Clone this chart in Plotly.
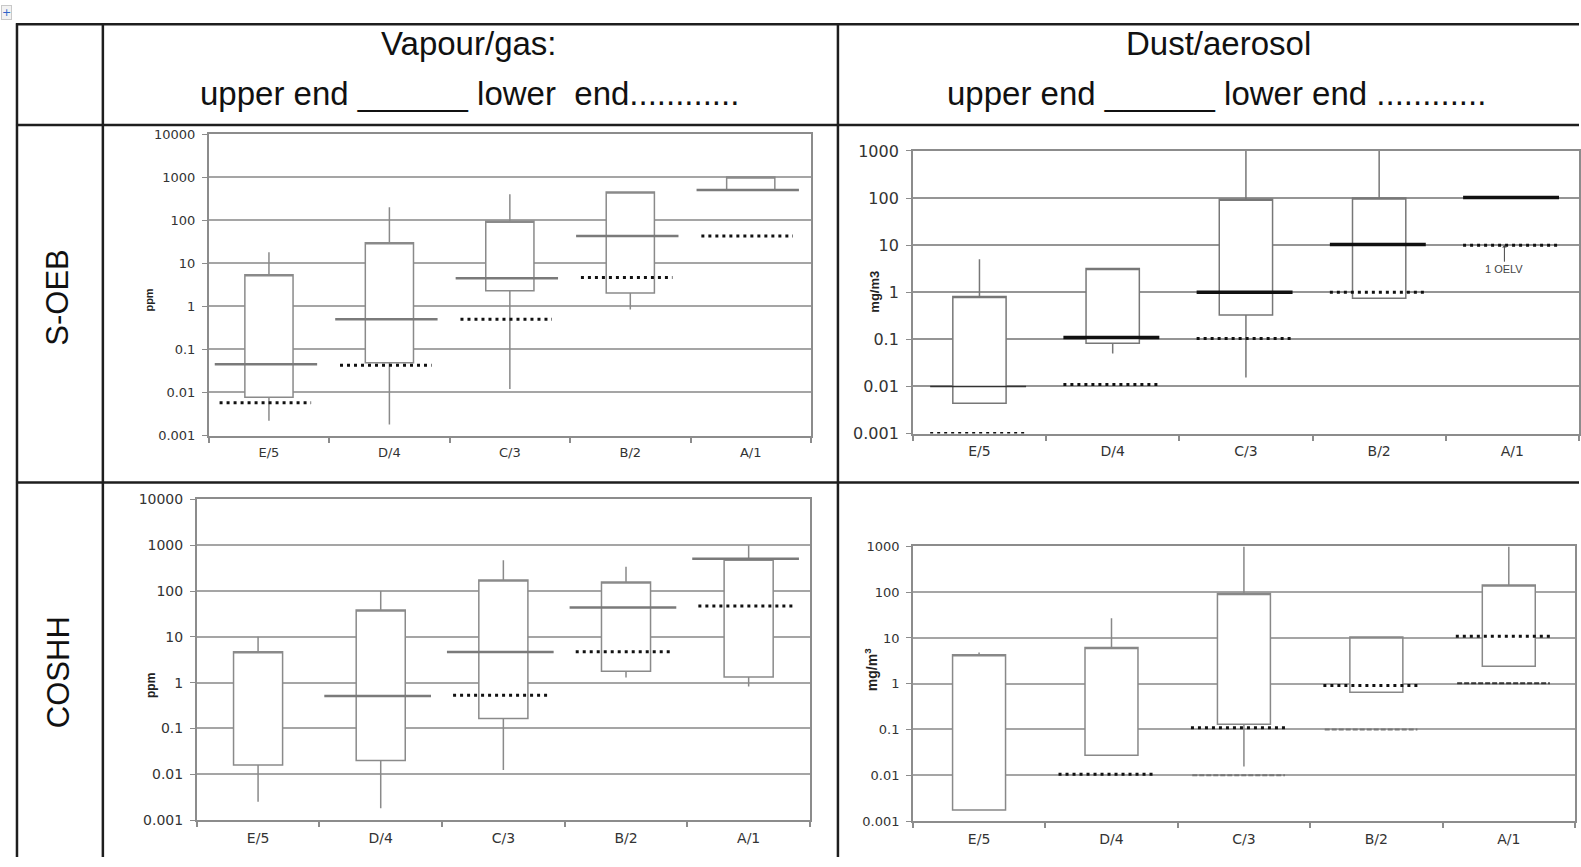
import plotly.graph_objects as go

W, H = 1581, 867

CATEGORIES = ["E/5", "D/4", "C/3", "B/2", "A/1"]
TICK_VALS_7 = [0.001, 0.01, 0.1, 1, 10, 100, 1000, 10000]
TICK_TEXT_7 = ["0.001", "0.01", "0.1", "1", "10", "100", "1000", "10000"]

# ---- S-OEB, vapour/gas (ppm)
SV_Q1 = [0.0078, 0.049, 2.3, 2.05, 500]
SV_Q3 = [5.4, 30, 95, 450, 1000]
SV_LO = [0.0022, 0.0018, 0.012, 0.85, 500]
SV_HI = [18, 200, 400, 450, 1000]
SV_UPPER = [0.045, 0.5, 4.5, 43, 500]
SV_LOWER = [0.0058, 0.043, 0.5, 4.7, 43]

# ---- S-OEB, dust/aerosol (mg/m3)
SD_Q1 = [0.0044, 0.083, 0.33, 0.75, None]
SD_Q3 = [0.81, 3.2, 95, 100, None]
SD_LO = [0.0044, 0.05, 0.0156, 0.75, None]
SD_HI = [5.0, 3.2, 1000, 1000, None]
SD_UPPER = [0.01, 0.11, 1.0, 10.3, 103]
SD_LOWER = [0.001, 0.011, 0.105, 1.0, 10]

# ---- COSHH, vapour/gas (ppm)
CV_Q1 = [0.016, 0.020, 0.164, 1.77, 1.33]
CV_Q3 = [4.75, 38.6, 174, 158, 494]
CV_LO = [0.0025, 0.0018, 0.0123, 1.29, 0.82]
CV_HI = [10, 100, 470, 340, 1000]
CV_UPPER = [None, 0.51, 4.67, 43.6, 510]
CV_LOWER = [None, None, 0.53, 4.75, 47]

# ---- COSHH, dust/aerosol (mg/m3)
CD_Q1 = [0.00174, 0.0275, 0.13, 0.65, 2.4]
CD_Q3 = [4.3, 6.2, 94, 10.5, 144]
CD_LO = [0.00174, 0.0275, 0.0156, 0.65, 2.4]
CD_HI = [4.8, 26.8, 1000, 10.5, 1000]
CD_LOWER = [None, 0.0105, 0.109, 0.92, 10.9]
CD_DASHED = [None, None, 0.01, 0.1, 1.03]

OELV_LEVEL = 10

# ---------------- styles / layout (pixels) ----------------
SOLID_GRAY = dict(color="#7a7a7a", width=2.5)
SOLID_BLACK = dict(color="#111111", width=3.5)
SOLID_THIN = dict(color="#333333", width=1.5)
DOTTED = dict(color="#111111", width=3, dash="3px,4px")
DASHED_GRAY = dict(color="#777777", width=2, dash="5px,2px")
DASHED_DARK = dict(color="#333333", width=2, dash="5px,2px")

PANELS = [
    dict(px=(209, 812), py=(134, 436), yr=(-3, 4), q1=SV_Q1, q3=SV_Q3, lo=SV_LO, hi=SV_HI,
         boxcolor="#8a8a8a", tickfont=13, xfont=13, gridcolor="#a5a5a5",
         lines=[(SV_UPPER, [SOLID_GRAY] * 5, (-0.45, 0.40)),
                (SV_LOWER, [DOTTED] * 5, (-0.41, 0.35))],
         ytitle="ppm", ytx=149, yty=300, ytsize=11),
    dict(px=(914, 1581), py=(151, 434), yr=(-3, 3), q1=SD_Q1, q3=SD_Q3, lo=SD_LO, hi=SD_HI,
         boxcolor="#777777", tickfont=16, xfont=14, gridcolor="#959595",
         lines=[(SD_UPPER, [SOLID_THIN] + [SOLID_BLACK] * 4, (-0.37, 0.35)),
                (SD_LOWER, [DOTTED] * 5, (-0.37, 0.35))],
         ytitle="mg/m3", ytx=876, yty=292, ytsize=13),
    dict(px=(197, 811), py=(500, 821), yr=(-3, 4), q1=CV_Q1, q3=CV_Q3, lo=CV_LO, hi=CV_HI,
         boxcolor="#8a8a8a", tickfont=14, xfont=14, gridcolor="#a5a5a5",
         lines=[(CV_UPPER, [SOLID_GRAY] * 5, (-0.46, 0.41)),
                (CV_LOWER, [DOTTED] * 5, (-0.41, 0.36))],
         ytitle="ppm", ytx=151, yty=686, ytsize=12),
    dict(px=(914, 1577), py=(547, 822), yr=(-3, 3), q1=CD_Q1, q3=CD_Q3, lo=CD_LO, hi=CD_HI,
         boxcolor="#888888", tickfont=13, xfont=14, gridcolor="#a5a5a5",
         lines=[(CD_LOWER, [DOTTED] * 5, (-0.40, 0.33)),
                (CD_DASHED, [DASHED_GRAY, DASHED_GRAY, DASHED_GRAY, DASHED_GRAY, DASHED_DARK], (-0.39, 0.31))],
         ytitle="mg/m<sup>3</sup>", ytx=872, yty=670, ytsize=14),
]

# observed vertical placement of the rendered figure in the page
Y_OFF, Y_SCALE = 8.8, 0.9795


def fx(p):
    return p / W


def fy(p):
    return 1 - ((p - Y_OFF) / Y_SCALE) / H


def paper_text(text, x, y, font, angle=0, **kw):
    return dict(text=text, x=fx(x), y=fy(y), xref="paper", yref="paper", showarrow=False,
                xanchor="center", yanchor="middle", textangle=angle, font=font, **kw)


fig = go.Figure()
layout_axes = {}
annotations = []

for k, P in enumerate(PANELS):
    suffix = "" if k == 0 else str(k + 1)
    xa, ya = "x" + suffix, "y" + suffix
    idx = [i for i in range(len(CATEGORIES)) if P["q1"][i] is not None]
    fig.add_trace(go.Box(
        x=idx,
        q1=[P["q1"][i] for i in idx],
        median=[P["q3"][i] for i in idx],
        q3=[P["q3"][i] for i in idx],
        lowerfence=[P["lo"][i] for i in idx],
        upperfence=[P["hi"][i] for i in idx],
        width=0.4, whiskerwidth=0, boxpoints=False,
        line=dict(color=P["boxcolor"], width=1.5), fillcolor="white",
        xaxis=xa, yaxis=ya, showlegend=False, hoverinfo="skip",
    ))
    for values, styles, (a, b) in P["lines"]:
        for i, v in enumerate(values):
            if v is None:
                continue
            fig.add_trace(go.Scatter(
                x=[i + a, i + b], y=[v, v], mode="lines", line=styles[i],
                xaxis=xa, yaxis=ya, showlegend=False, hoverinfo="skip",
            ))
    lo_e, hi_e = P["yr"]
    tv = [v for v in TICK_VALS_7 if 10 ** lo_e <= v <= 10 ** hi_e]
    tt = [TICK_TEXT_7[TICK_VALS_7.index(v)] for v in tv]
    layout_axes["xaxis" + suffix] = dict(
        domain=[fx(P["px"][0]), min(1.0, fx(P["px"][1]))], anchor=ya,
        range=[-0.5, 4.5], tickvals=list(range(5)), ticktext=CATEGORIES,
        ticks="", showgrid=False, zeroline=False, ticklabelstandoff=4,
        showline=True, linecolor="#8c8c8c", linewidth=2, mirror=True,
        tickfont=dict(family="DejaVu Sans, Liberation Sans", size=P["xfont"], color="#333"),
        minor=dict(tickvals=[i - 0.5 for i in range(6)], ticks="outside", ticklen=5,
                   tickcolor="#8c8c8c", tickwidth=1.5, showgrid=False),
        fixedrange=True,
    )
    layout_axes["yaxis" + suffix] = dict(
        domain=[fy(P["py"][1]), fy(P["py"][0])], anchor=xa, type="log",
        range=[lo_e, hi_e], tickvals=tv, ticktext=tt,
        ticks="outside", ticklen=5, tickcolor="#8c8c8c", ticklabelstandoff=4,
        showgrid=True, gridcolor=P["gridcolor"], gridwidth=1.5, zeroline=False,
        showline=True, linecolor="#8c8c8c", linewidth=1.5, mirror=True,
        tickfont=dict(family="DejaVu Sans, Liberation Sans", size=P["tickfont"], color="#333"),
        fixedrange=True,
    )
    annotations.append(paper_text("<b>" + P["ytitle"] + "</b>", P["ytx"], P["yty"],
                                  dict(family="Liberation Sans", size=P["ytsize"], color="#222"), angle=-90))

# OELV annotation on S-OEB dust panel
annotations.append(dict(
    text="1 OELV", x=3.94, y=1, xref="x2", yref="y2", showarrow=True,
    ax=0, ay=24, arrowhead=1, arrowsize=0.8, arrowwidth=1, arrowcolor="#444",
    font=dict(family="Liberation Sans", size=11, color="#444"), standoff=0,
))

HEADER_FONT = dict(family="Liberation Sans", size=33, color="#111")
annotations += [
    paper_text("Vapour/gas:", 470, 43, HEADER_FONT),
    paper_text("upper end ______ lower  end............", 470, 93, HEADER_FONT),
    paper_text("Dust/aerosol", 1220, 43, HEADER_FONT),
    paper_text("upper end ______ lower end ............", 1218, 93, HEADER_FONT),
    paper_text("S-OEB", 58, 298, dict(family="Liberation Sans", size=31, color="#111"), angle=-90),
    paper_text("COSHH", 58, 673, dict(family="Liberation Sans", size=31, color="#111"), angle=-90),
    paper_text("+", 7, 12, dict(family="DejaVu Sans", size=11, color="#2f64c8"),
               bordercolor="#c8c8c8", borderwidth=1, borderpad=0, bgcolor="#f2f2f2"),
]

TABLE = dict(color="#1e1e1e", width=2.5)
shapes = []
for y in (24, 125, 483):
    shapes.append(dict(type="line", xref="paper", yref="paper", x0=fx(16), x1=1, y0=fy(y), y1=fy(y),
                       line=TABLE))
for x in (17, 103, 839):
    shapes.append(dict(type="line", xref="paper", yref="paper", x0=fx(x), x1=fx(x), y0=fy(23), y1=0,
                       line=TABLE))

fig.update_layout(
    width=W, height=H, margin=dict(l=0, r=0, t=0, b=0),
    paper_bgcolor="white", plot_bgcolor="white",
    annotations=annotations, shapes=shapes, showlegend=False,
    **layout_axes,
)

fig.write_html("out.html")
